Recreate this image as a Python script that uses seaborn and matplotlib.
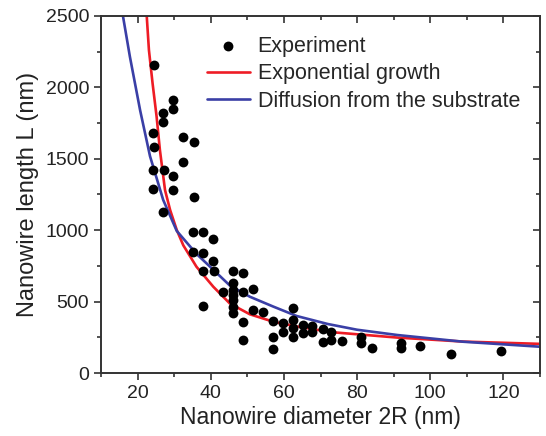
import numpy as np
import pandas as pd
import seaborn as sns
import matplotlib
matplotlib.use("Agg")
import matplotlib.pyplot as plt
from matplotlib.ticker import MultipleLocator

# ---- data ----
exp_diameter = [24.5, 29.8, 29.8, 27.0, 27.0, 24.3, 24.5, 32.5, 35.4, 32.5,
                24.3, 27.3, 29.8, 24.3, 29.8, 35.4, 27.0, 35.2, 38.0, 40.7,
                35.2, 38.0, 40.7, 38.0, 40.9, 46.0, 48.9, 46.1, 43.4, 46.1,
                46.1, 46.1, 46.1, 38.0, 48.9, 51.6, 48.9, 48.9, 51.6, 54.3,
                57.1, 57.1, 57.1, 59.8, 59.8, 62.4, 62.4, 62.4, 62.4, 65.1,
                65.1, 67.8, 67.8, 70.6, 70.6, 73.0, 73.0, 76.0, 81.2, 81.2,
                84.0, 91.9, 91.9, 97.3, 105.6, 119.3, 46.0]
exp_length = [2157, 1912, 1846, 1823, 1760, 1682, 1585, 1650, 1620, 1479,
              1422, 1422, 1380, 1286, 1281, 1230, 1129, 986, 986, 936,
              850, 838, 784, 716, 716, 716, 698, 633, 569, 546,
              511, 465, 422, 469, 569, 586, 359, 231, 442, 430,
              366, 250, 168, 348, 290, 453, 371, 313, 255, 336,
              283, 329, 290, 306, 219, 290, 231, 226, 255, 208,
              173, 212, 173, 191, 133, 154, 582]

exp_growth_x = [22.5, 23.1, 24.1, 25.2, 26.1, 27.5, 28.9, 30.7, 32.5, 36.1,
                40.7, 45.2, 50.7, 57.1, 63.5, 73.0, 91.0, 109.0, 130.0]
exp_growth_y = [2500, 2262, 2028, 1795, 1562, 1281, 1141, 1002, 894, 744,
                604, 487, 411, 359, 326, 286, 248, 220, 204]

diffusion_x = [16.0, 17.9, 20.7, 23.4, 27.0, 30.7, 36.1, 40.7, 45.2, 50.7,
               57.1, 63.5, 72.0, 80.0, 91.0, 109.0, 130.0]
diffusion_y = [2500, 2215, 1839, 1518, 1212, 995, 834, 723, 613, 534,
               465, 399, 343, 303, 266, 219, 184]

labels = ["Experiment", "Exponential growth", "Diffusion from the substrate"]

# ---- styling ----
sns.set_style("ticks")
plt.rcParams['font.family'] = ['Liberation Sans', 'DejaVu Sans']

fig = plt.figure(figsize=(5.46, 4.36), dpi=100)
ax = fig.add_axes([101/546, 1 - 373/436, (540 - 101)/546, (373 - 16)/436])

df_exp = pd.DataFrame({"d": exp_diameter, "L": exp_length})
df_g = pd.DataFrame({"d": exp_growth_x, "L": exp_growth_y})
df_f = pd.DataFrame({"d": diffusion_x, "L": diffusion_y})

sns.scatterplot(data=df_exp, x="d", y="L", ax=ax, color="black", s=50,
                edgecolor="black", linewidth=0, label=labels[0], zorder=3)
sns.lineplot(data=df_g, x="d", y="L", ax=ax, color="#ee1c25", lw=1.9,
             label=labels[1], sort=False, estimator=None, zorder=2)
sns.lineplot(data=df_f, x="d", y="L", ax=ax, color="#3a3fa6", lw=1.9,
             label=labels[2], sort=False, estimator=None, zorder=2)

ax.set_xlim(10, 130)
ax.set_ylim(0, 2500)
ax.xaxis.set_major_locator(MultipleLocator(20))
ax.xaxis.set_minor_locator(MultipleLocator(10))
ax.yaxis.set_major_locator(MultipleLocator(500))
ax.yaxis.set_minor_locator(MultipleLocator(250))

for s in ax.spines.values():
    s.set_visible(True)
    s.set_linewidth(1.4)
    s.set_color("#333333")

ax.tick_params(which="both", direction="out", colors="#333333",
               labelcolor="#222222", labelsize=14, width=1.2,
               top=False, right=False)
ax.tick_params(which="major", length=5)
ax.tick_params(which="minor", length=3)

ax.set_xlabel("Nanowire diameter 2R (nm)", fontsize=16.5, color="#222222", labelpad=3)
ax.set_ylabel("Nanowire length L (nm)", fontsize=17, color="#222222", labelpad=5)

# inward mirrored ticks on top and right
axt = ax.twiny()
axt.set_xlim(ax.get_xlim())
axt.xaxis.set_major_locator(MultipleLocator(20))
axt.xaxis.set_minor_locator(MultipleLocator(10))
axt.tick_params(axis="x", which="both", direction="in", labeltop=False,
                colors="#333333", width=1.2)
axt.tick_params(which="major", length=5)
axt.tick_params(which="minor", length=3)
axr = ax.twinx()
axr.set_ylim(ax.get_ylim())
axr.yaxis.set_major_locator(MultipleLocator(500))
axr.yaxis.set_minor_locator(MultipleLocator(250))
axr.tick_params(axis="y", which="both", direction="in", labelright=False,
                colors="#333333", width=1.2)
axr.tick_params(which="major", length=5)
axr.tick_params(which="minor", length=3)
for a in (axt, axr):
    for s in a.spines.values():
        s.set_visible(False)

ax.legend(loc="upper left", bbox_to_anchor=(0.221, 0.969), borderaxespad=0,
          frameon=False, fontsize=15.5, handlelength=2.0, handletextpad=0.37,
          labelspacing=0.3)

fig.savefig("out.png", dpi=100)
